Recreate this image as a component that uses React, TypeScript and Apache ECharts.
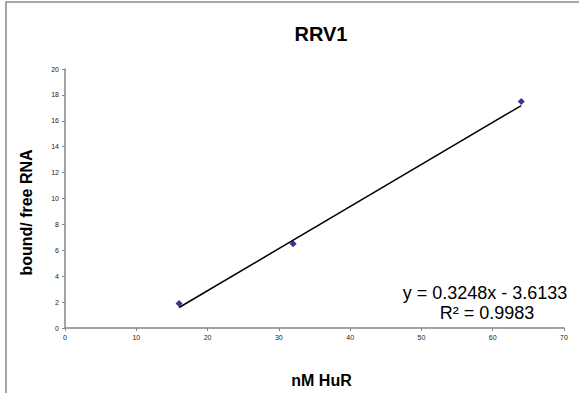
import React, { useEffect, useRef } from "react";
import * as echarts from "echarts";

const chartTitle = "RRV1";
const xName = "nM HuR";
const yName = "bound/ free RNA";
const xValues = [16, 32, 64];
const yValues = [1.9, 6.5, 17.5];
const slope = 0.3248;
const intercept = -3.6133;
const rSquared = 0.9983;
const fitRange = [16, 64];

export default function App() {
  const ref = useRef<HTMLDivElement>(null);
  useEffect(() => {
    if (!ref.current) return;
    const chart = echarts.init(ref.current, null, { renderer: "svg" });
    const points = xValues.map((x, i) => [x, yValues[i]]);
    const fit = fitRange.map((x) => [x, slope * x + intercept]);
    const font = "Arial, 'Liberation Sans', sans-serif";
    chart.setOption({
      animation: false,
      backgroundColor: "#ffffff",
      title: {
        text: chartTitle,
        left: 316,
        top: 19,
        textAlign: "center",
        textStyle: { fontSize: 20, fontWeight: "bold", color: "#000", fontFamily: font },
      },
      grid: { left: 65, right: 15, top: 69, bottom: 65 },
      xAxis: {
        type: "value",
        min: 0,
        max: 70,
        interval: 10,
        name: xName,
        nameLocation: "middle",
        nameGap: 44,
        nameTextStyle: { fontSize: 16, fontWeight: "bold", color: "#000", fontFamily: font, padding: [0, 0, 0, 14] },
        axisLine: { lineStyle: { color: "#868686", width: 1.5 } },
        axisTick: { show: true, length: 3, inside: false, lineStyle: { color: "#868686" } },
        axisLabel: { fontSize: 7, color: "#222", fontFamily: font, margin: 6 },
        splitLine: { show: false },
      },
      yAxis: {
        type: "value",
        min: 0,
        max: 20,
        interval: 2,
        name: yName,
        nameLocation: "middle",
        nameGap: 31,
        nameRotate: 90,
        nameTextStyle: { fontSize: 16, fontWeight: "bold", color: "#000", fontFamily: font, padding: [0, 28, 0, 0] },
        axisLine: { show: true, lineStyle: { color: "#868686", width: 1.5 } },
        axisTick: { show: true, length: 3, inside: false, lineStyle: { color: "#868686" } },
        axisLabel: { fontSize: 7, color: "#222", fontFamily: font, margin: 6 },
        splitLine: { show: false },
      },
      series: [
        {
          type: "line",
          data: fit,
          symbol: "none",
          lineStyle: { color: "#000", width: 1.5 },
          z: 2,
        },
        {
          type: "scatter",
          data: points,
          symbol: "diamond",
          symbolSize: 7,
          itemStyle: { color: "#00008b" },
          z: 3,
        },
      ],
      graphic: [
        {
          type: "rect",
          shape: { x: 6, y: 2, width: 700, height: 500 },
          style: { fill: "none", stroke: "#8a8a8a", lineWidth: 1.5 },
          silent: true,
          z: -1,
        },
        {
          type: "text",
          x: 485,
          y: 293,
          style: {
            text: `y = ${slope}x - ${Math.abs(intercept)}`,
            fontSize: 18,
            fontFamily: font,
            fill: "#000",
            textAlign: "center",
            textVerticalAlign: "middle",
          },
        },
        {
          type: "text",
          x: 487,
          y: 313,
          style: {
            text: `R² = ${rSquared}`,
            fontSize: 18,
            fontFamily: font,
            fill: "#000",
            textAlign: "center",
            textVerticalAlign: "middle",
          },
        },
      ],
    });
    return () => chart.dispose();
  }, []);
  return (
    <div
      ref={ref}
      style={{ position: "absolute", left: 0, top: 0, width: 579, height: 393 }}
    />
  );
}
